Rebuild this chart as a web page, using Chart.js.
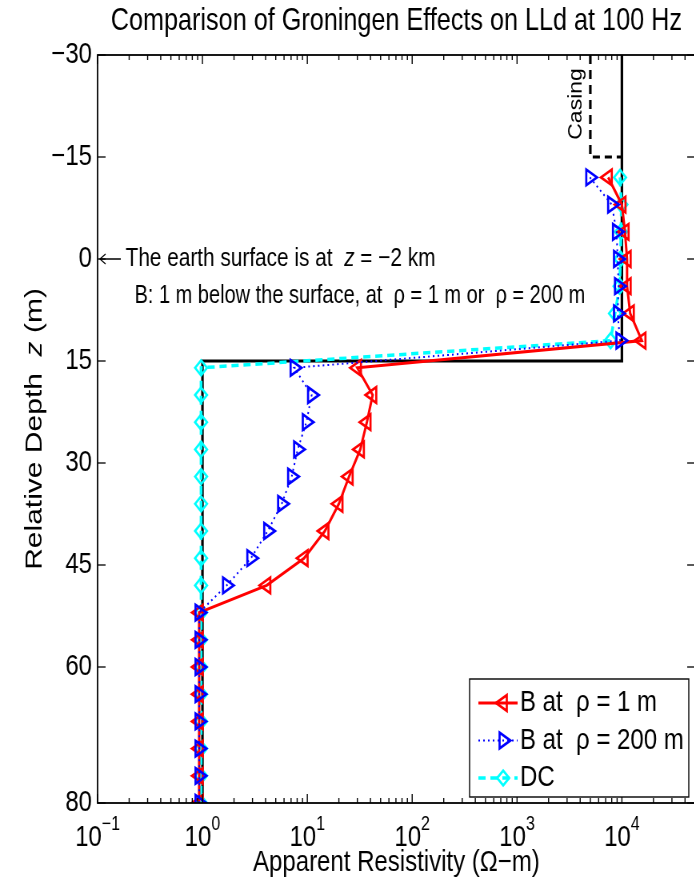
<!DOCTYPE html>
<html>
<head>
<meta charset="utf-8">
<title>Groningen Effects on LLd at 100 Hz</title>
<script src="https://cdn.jsdelivr.net/npm/chart.js@4.4.1/dist/chart.umd.min.js"></script>
<style>
  html, body { margin: 0; padding: 0; background: #fff; overflow: hidden; }
  #frame { position: relative; width: 694px; height: 881px; overflow: hidden; }
  /* the figure is drawn wide and squeezed horizontally, like the exported original */
  #wrap { position: absolute; left: 0; top: 0; width: 881px; height: 881px;
          transform: scaleX(0.8); transform-origin: 0 0; }
</style>
</head>
<body>
<div id="frame"><div id="wrap"><canvas id="chart" width="881" height="881"></canvas></div></div>
<script>
// Relative depth of every logging point (m)
const depth = [-12, -8, -4, 0, 4, 8, 12, 16, 20, 24, 28, 32, 36, 40, 44, 48, 52, 56, 60, 64, 68, 72, 76, 80];

// Apparent resistivity (ohm-m) for each tool position
const rhoB1 = [7400, 10000, 10700, 11200, 11200, 12000, 15500, 30, 42, 37, 32, 25, 20, 14.7, 9.3, 4.1,
  0.93, 0.93, 0.93, 0.93, 0.93, 0.93, 0.93, 0.93];
const rhoB200 = [4950, 8000, 8900, 9100, 9300, 9100, 9600, 7.5, 11, 9.8, 8.1, 7.1, 5.7, 4.2, 2.9, 1.7,
  0.93, 0.93, 0.93, 0.93, 0.93, 0.93, 0.93, 0.93];
const rhoDC = [9600, 9900, 9800, 9700, 9500, 8600, 7800, 0.97, 0.97, 0.97, 0.97, 0.97, 0.97, 0.97, 0.97, 0.97,
  0.97, 0.97, 0.97, 0.97, 0.97, 0.97, 0.97, 0.97];

// True formation model and the casing outline
const modelRes = [1e4, 1e4, 1, 1];
const modelZ = [-30, 15, 15, 80];
const casingRes = [5e3, 5e3, 1e4];
const casingZ = [-30, -15, -15];

// Axis ticks
const yTicks = [-30, -15, 0, 15, 30, 45, 60, 80];
const xDecades = [-1, 0, 1, 2, 3, 4];

const seriesLabels = ['B at  \u03c1 = 1 m', 'B at  \u03c1 = 200 m', 'DC'];

const FONT = '"Liberation Sans", Arial, Helvetica, sans-serif';

function pts(xs, zs) {
  return zs.map((z, i) => ({ x: xs[i], y: z }));
}

// draws a row of text pieces, some of them italic
function drawRich(ctx, parts, x, y, size, align) {
  let total = 0;
  parts.forEach(([t, it]) => {
    ctx.font = (it ? 'italic ' : '') + size + 'px ' + FONT;
    total += ctx.measureText(t).width;
  });
  let cx = align === 'center' ? x - total / 2 : x;
  ctx.textAlign = 'left';
  parts.forEach(([t, it]) => {
    ctx.font = (it ? 'italic ' : '') + size + 'px ' + FONT;
    ctx.fillText(t, cx, y);
    cx += ctx.measureText(t).width;
  });
}

const decor = {
  id: 'decor',
  afterDatasetsDraw(chart) {
    const { ctx, chartArea: a, scales: { x, y } } = chart;
    ctx.save();
    ctx.strokeStyle = '#000';
    const seg = (x1, y1, x2, y2) => { ctx.beginPath(); ctx.moveTo(x1, y1); ctx.lineTo(x2, y2); ctx.stroke(); };

    // inward ticks on the log axis, top and bottom
    ctx.lineWidth = 1.4;
    xDecades.forEach(k => {
      for (let m = 1; m <= 9; m++) {
        const v = m * Math.pow(10, k);
        if (v > x.max) break;
        const px = x.getPixelForValue(v);
        const len = m === 1 ? 9 : 5;
        seg(px, a.bottom, px, a.bottom - len);
        seg(px, a.top, px, a.top + len);
      }
    });
    // inward ticks on the depth axis, left and right
    ctx.lineWidth = 1.3;
    yTicks.forEach(v => {
      const py = y.getPixelForValue(v);
      seg(a.left, py, a.left + 10, py);
      seg(a.right, py, a.right - 10, py);
    });
    // box
    ctx.lineWidth = 1.8;
    ctx.strokeRect(a.left, a.top, a.right - a.left, a.bottom - a.top);
    ctx.restore();
  },
  afterDraw(chart) {
    const { ctx, chartArea: a, scales: { x, y } } = chart;
    ctx.save();
    ctx.fillStyle = '#000';
    ctx.strokeStyle = '#000';
    ctx.textBaseline = 'middle';
    const cx = (a.left + a.right) / 2;

    // title
    drawRich(ctx, [['Comparison of Groningen Effects on LLd at 100 Hz', false]], cx, 21, 31.5, 'center');

    // decade labels 10^k
    ctx.textBaseline = 'alphabetic';
    xDecades.forEach(k => {
      const px = x.getPixelForValue(Math.pow(10, k));
      const exp = k < 0 ? '\u2212' + Math.abs(k) : String(k);
      ctx.font = '30px ' + FONT;
      const wb = ctx.measureText('10').width;
      ctx.font = '20px ' + FONT;
      const we = ctx.measureText(exp).width;
      const left = px - (wb + we) / 2;
      ctx.font = '30px ' + FONT;
      ctx.fillText('10', left, a.bottom + 43);
      ctx.font = '20px ' + FONT;
      ctx.fillText(exp, left + wb, a.bottom + 27);
    });

    // axis titles
    ctx.textBaseline = 'middle';
    drawRich(ctx, [['Apparent Resistivity (\u03a9\u2212m)', false]], cx, a.bottom + 60, 30, 'center');
    ctx.save();
    ctx.translate(44, (a.top + a.bottom) / 2);
    ctx.rotate(-Math.PI / 2);
    drawRich(ctx, [['Relative Depth  ', false], ['z', true], [' (m)', false]], 0, 0, 30, 'center');
    ctx.restore();

    // note at the surface, with a leftward arrow to the axis
    const ax = x.getPixelForValue(0.1) + 3, ay = y.getPixelForValue(0);
    ctx.lineWidth = 1.3;
    ctx.beginPath();
    ctx.moveTo(ax, ay); ctx.lineTo(ax + 26, ay);
    ctx.moveTo(ax + 7, ay - 5); ctx.lineTo(ax, ay); ctx.lineTo(ax + 7, ay + 5);
    ctx.stroke();
    drawRich(ctx, [['The earth surface is at  ', false], ['z', true], [' = \u22122 km', false]],
      ax + 32, ay, 26, 'left');
    drawRich(ctx, [['B: 1 m below the surface, at  \u03c1 = 1 m or  \u03c1 = 200 m', false]],
      x.getPixelForValue(0.225), y.getPixelForValue(5.4), 25, 'left');
    ctx.save();
    ctx.translate(x.getPixelForValue(3720), y.getPixelForValue(-22.8));
    ctx.rotate(-Math.PI / 2);
    drawRich(ctx, [['Casing', false]], 0, 0, 23, 'center');
    ctx.restore();

    // legend box, lower right
    const bw = 274, bh = 118;
    const bx = a.right - 8 - bw, by = a.bottom - 6 - bh;
    ctx.fillStyle = '#fff';
    ctx.fillRect(bx, by, bw, bh);
    ctx.lineWidth = 1.4;
    ctx.strokeRect(bx, by, bw, bh);
    chart.data.datasets.slice(0, 3).forEach((ds, i) => {
      const ry = by + 24 + i * 37.5;
      ctx.save();
      ctx.strokeStyle = ds.borderColor;
      ctx.lineWidth = ds.borderWidth;
      ctx.setLineDash(ds.borderDash || []);
      ctx.beginPath();
      ctx.moveTo(bx + 11, ry);
      ctx.lineTo(bx + 60, ry);
      ctx.stroke();
      ctx.setLineDash([]);
      ctx.fillStyle = 'rgba(0,0,0,0)';
      ctx.lineWidth = ds.pointBorderWidth;
      Chart.helpers.drawPoint(ctx, {
        pointStyle: ds.pointStyle, rotation: ds.pointRotation,
        radius: ds.pointRadius, borderWidth: ds.pointBorderWidth
      }, bx + 42, ry);
      ctx.restore();
      ctx.fillStyle = '#000';
      drawRich(ctx, [[ds.label, false]], bx + 63, ry, 30, 'left');
    });
    ctx.restore();
  }
};

new Chart(document.getElementById('chart'), {
  type: 'scatter',
  data: {
    datasets: [
      {
        label: seriesLabels[0], data: pts(rhoB1, depth), showLine: true, order: 1,
        borderColor: '#ff0000', borderWidth: 3,
        pointStyle: 'triangle', pointRotation: -90, pointRadius: 9, pointBorderWidth: 2.7,
        pointBorderColor: '#ff0000', pointBackgroundColor: 'rgba(0,0,0,0)'
      },
      {
        label: seriesLabels[1], data: pts(rhoB200, depth), showLine: true, order: 0,
        borderColor: '#0000ff', borderWidth: 2, borderDash: [2, 4],
        pointStyle: 'triangle', pointRotation: 90, pointRadius: 9, pointBorderWidth: 2.7,
        pointBorderColor: '#0000ff', pointBackgroundColor: 'rgba(0,0,0,0)'
      },
      {
        label: seriesLabels[2], data: pts(rhoDC, depth), showLine: true, order: 2,
        borderColor: '#00ffff', borderWidth: 3.5, borderDash: [9, 6],
        pointStyle: 'rectRot', pointRadius: 7.5, pointBorderWidth: 2.6,
        pointBorderColor: '#00ffff', pointBackgroundColor: 'rgba(0,0,0,0)'
      },
      {
        label: 'model', data: pts(modelRes, modelZ), showLine: true, order: 3,
        borderColor: '#000', borderWidth: 3.2, pointRadius: 0
      },
      {
        label: 'casing', data: pts(casingRes, casingZ), showLine: true, order: 4,
        borderColor: '#000', borderWidth: 3.2, borderDash: [9, 6], pointRadius: 0
      }
    ]
  },
  options: {
    responsive: false,
    animation: false,
    devicePixelRatio: 1,
    layout: { padding: { top: 55, left: 0, right: 12, bottom: 0 } },
    plugins: { legend: { display: false }, tooltip: { enabled: false }, title: { display: false } },
    scales: {
      x: {
        type: 'logarithmic', min: 0.1, max: 5e4,
        ticks: { display: false }, grid: { display: false }, border: { display: false },
        afterFit(s) { s.height = 78; }
      },
      y: {
        type: 'linear', reverse: true, min: -30, max: 80,
        afterBuildTicks(s) { s.ticks = yTicks.map(v => ({ value: v })); },
        ticks: {
          color: '#000', padding: 7, font: { family: FONT, size: 30 },
          callback: v => (v < 0 ? '\u2212' + Math.abs(v) : String(v))
        },
        grid: { display: false, drawTicks: false }, border: { display: false },
        afterFit(s) { s.width = 122; }
      }
    }
  },
  plugins: [decor]
});
</script>
</body>
</html>
